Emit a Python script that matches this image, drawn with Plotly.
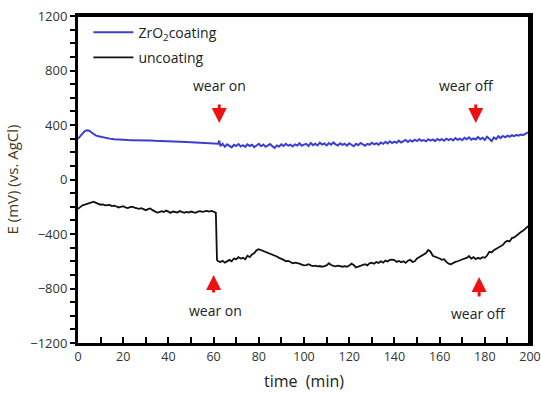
import plotly.graph_objects as go

# ---- data ----
blue_t = [0, 1, 2, 3, 4, 5, 6, 7, 8, 9, 10, 12, 14, 16, 18, 20, 22, 24, 26, 28, 30, 32, 34, 36, 38, 40,
          42, 44, 46, 48, 50, 52, 54, 56, 58, 60, 61, 62, 62.5] + list(range(63, 201))
blue_v = [300, 320, 340, 355, 362, 358, 345, 330, 322, 318, 314, 306, 300, 296, 292, 290, 289, 288, 288, 290,
          289, 286, 284, 282, 281, 280, 279, 277, 276, 275, 274, 272, 270, 268, 267, 265, 264, 262, 285,
          245, 262, 240, 258, 248, 236, 255, 246, 260, 242, 252, 240, 258, 246, 255, 238, 250, 262, 244, 256,
          240, 248, 260, 245, 232, 250, 242, 258, 246, 262, 248, 255, 242, 258, 250, 266, 248, 256, 262, 246,
          268, 252, 262, 250, 270, 256, 264, 250, 268, 255, 272, 258, 250, 266, 254, 262, 248, 266, 256, 244,
          262, 252, 268, 256, 248, 262, 255, 270, 258, 266, 255, 272, 262, 276, 265, 280, 268, 278, 270, 285,
          272, 282, 290, 276, 288, 278, 292, 282, 296, 284, 290, 280, 296, 286, 294, 282, 298, 288, 296, 284,
          300, 290, 298, 286, 304, 292, 300, 288, 306, 296, 310, 292, 302, 294, 312, 296, 306, 290, 314, 300,
          282, 308, 296, 318, 304, 320, 310, 322, 314, 326, 318, 328, 322, 330, 326, 336, 345, 352]

black_t = list(range(0, 62)) + [61.5] + list(range(62, 201))
black_v = [-215, -200, -190, -185, -180, -175, -168, -163, -172, -178, -185, -183, -190, -188, -186, -195,
           -192, -198, -205, -200, -196, -205, -210, -203, -200, -207, -212, -215, -210, -220, -225, -218,
           -212, -225, -235, -243, -240, -232, -238, -228, -236, -245, -235, -238, -242, -232, -240, -245,
           -238, -242, -235, -240, -244, -236, -232, -238, -235, -230, -235, -230, -235, -245,
           -590,
           -600, -605, -596, -610, -598, -590, -600, -580, -585, -570, -580, -575, -585, -560, -570, -550,
           -540, -520, -512, -518, -525, -530, -540, -545, -550, -556, -565, -575, -580, -590, -600, -598,
           -605, -615, -610, -612, -618, -625, -630, -628, -622, -630, -635, -632, -638, -635, -640, -636,
           -630, -615, -628, -634, -638, -632, -638, -640, -636, -640, -632, -618, -628, -645, -640, -632,
           -628, -622, -630, -615, -610, -618, -605, -612, -600, -610, -595, -602, -590, -588, -592, -605,
           -598, -608, -600, -612, -596, -590, -605, -600, -580, -570, -560, -550, -540, -518, -530, -560,
           -565, -575, -580, -590, -585, -605, -618, -622, -612, -605, -600, -592, -588, -580, -575, -562,
           -580, -570, -585, -575, -582, -570, -575, -558, -530, -535, -520, -510, -505, -495, -480, -460,
           -450, -455, -430, -425, -410, -400, -385, -375, -360, -345, -340]

x_ticks = [0, 20, 40, 60, 80, 100, 120, 140, 160, 180, 200]
y_ticks = [-1200, -800, -400, 0, 400, 800, 1200]

# annotations: (x, text_y, tip_y, tail_y, label)
marks = [
    (62.5, 687, 415, 561, "wear on"),
    (176, 687, 415, 561, "wear off"),
    (60, -963, -700, -840, "wear on"),
    (177.5, -980, -716, -870, "wear off"),
]
label_x = [62.8, 172, 61, 177]

fig = go.Figure()
fig.add_trace(go.Scatter(x=blue_t, y=blue_v, mode="lines", name="ZrO<sub>2</sub>coating",
                         line=dict(color="#3b3fcf", width=2), legendgroup="a"))
fig.add_trace(go.Scatter(x=black_t, y=black_v, mode="lines", name="uncoating",
                         line=dict(color="#111111", width=1.8), legendgroup="b"))

for (x, ty, tip, tail, lab), lx in zip(marks, label_x):
    fig.add_annotation(x=x, y=tip, ax=x, ay=tail, axref="x", ayref="y", xref="x", yref="y",
                       text="", showarrow=True, arrowhead=2, arrowsize=1, arrowwidth=3,
                       arrowcolor="#ee1111")
    fig.add_annotation(x=lx, y=ty, xref="x", yref="y", text=lab, showarrow=False,
                       font=dict(size=14, color="#222222", family="Open Sans"))

# frame
fig.add_shape(type="line", xref="paper", yref="paper", x0=0, x1=1, y0=1, y1=1,
              line=dict(color="black", width=2))
fig.add_shape(type="line", xref="paper", yref="paper", x0=1, x1=1, y0=0, y1=1,
              line=dict(color="black", width=4))

fig.update_layout(
    width=541, height=394,
    margin=dict(l=78, r=11, t=16, b=51, autoexpand=False),
    paper_bgcolor="white", plot_bgcolor="white",
    font=dict(family="Open Sans", size=13, color="#333333"),
    showlegend=True,
    legend=dict(x=0.023, y=0.998, xanchor="left", yanchor="top", bgcolor="rgba(0,0,0,0)",
                font=dict(size=14, color="#222222"), itemwidth=40, tracegroupgap=4),
    xaxis=dict(range=[0, 200], tickvals=x_ticks, ticks="inside", ticklen=6, tickwidth=2,
               tickcolor="black", showline=True, linewidth=3, linecolor="black", mirror=True,
               showgrid=False, zeroline=False, automargin=False, ticklabeloverflow="allow",
               minor=dict(dtick=10, ticks="inside", ticklen=6, tickwidth=2, tickcolor="black"),
               title=dict(text="time  (min)", font=dict(size=16, color="#222222"), standoff=12),
               tickfont=dict(size=12.5, color="#333333")),
    yaxis=dict(range=[-1200, 1200], tickvals=y_ticks, ticks="outside", ticklen=5, tickwidth=1.5,
               tickcolor="black", showline=True, linewidth=3, linecolor="black", mirror=True,
               showgrid=False, zeroline=False, automargin=False,
               minor=dict(dtick=100, ticks="outside", ticklen=5, tickwidth=1.5, tickcolor="black"),
               title=dict(text="E (mV) (vs. AgCl)", font=dict(size=15, color="#4a3818"), standoff=8),
               tickfont=dict(size=13, color="#333333")),
)

fig.write_html("out.html", config={"displayModeBar": False},
               post_script="document.body.style.margin='0';")
